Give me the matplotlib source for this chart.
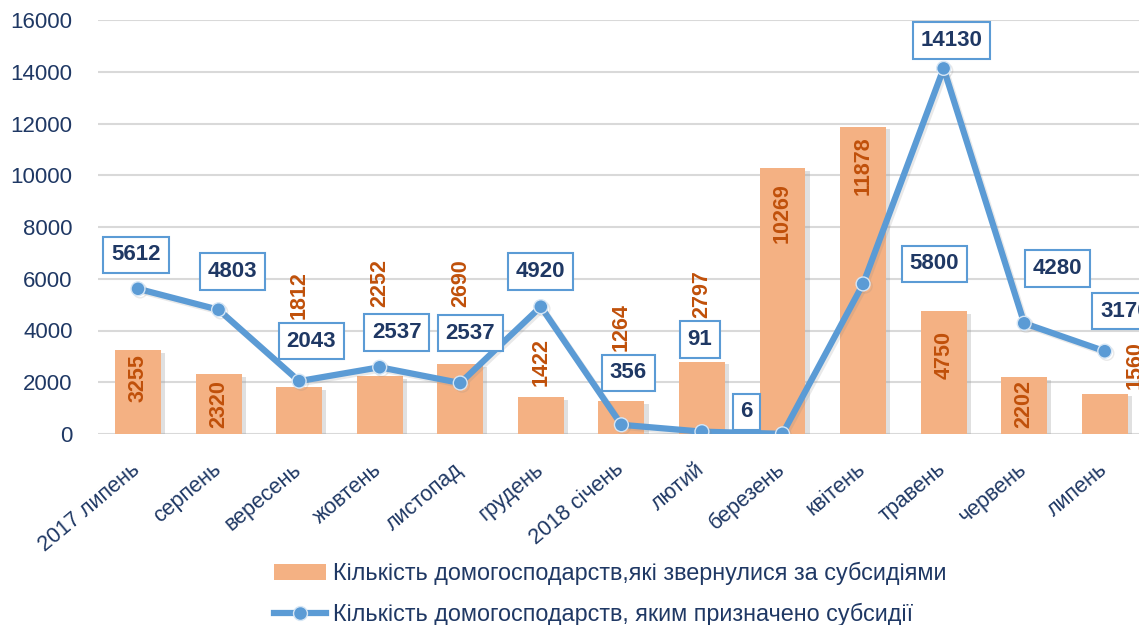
import matplotlib.pyplot as plt
import matplotlib.patheffects as pe
import matplotlib.transforms as mtransforms
from matplotlib.patches import Patch
from matplotlib.lines import Line2D

plt.rcParams['font.family'] = ['Liberation Sans', 'DejaVu Sans']

# Data
months = ['2017 липень', 'серпень', 'вересень', 'жовтень', 'листопад', 'грудень',
          '2018 січень', 'лютий', 'березень', 'квітень', 'травень', 'червень', 'липень']
applied = [3255, 2320, 1812, 2252, 2690, 1422, 1264, 2797, 10269, 11878, 4750, 2202, 1560]
granted = [5612, 4803, 2043, 2580, 1970, 4920, 356, 91, 6, 5800, 14130, 4280, 3200]
applied_labels = ['3255', '2320', '1812', '2252', '2690', '1422', '1264', '2797',
                  '10269', '11878', '4750', '2202', '1560']
granted_labels = ['5612', '4803', '2043', '2537', '2537', '4920', '356', '91', '6',
                  '5800', '14130', '4280', '3170']

# label placement (pixels from the bar top / line point)
bar_lab_off = [(0, -28), (0, -30), (0, 92), (0, 93), (0, 81), (0, 35), (0, 74),
               (0, 68), (0, -45), (0, -39), (0, -44), (0, -27), (30, 29)]
line_lab_off = [(-2, 34), (14, 38), (12, 40), (17, 35), (10, 50), (0, 35), (7, 52),
                (-2, 92), (-36, 22), (71, 20), (8, 28), (33, 55), (20, 40)]

navy = '#1F3864'
bar_color = '#F4B183'
line_color = '#5B9BD5'
bar_text = '#C0500A'

fig = plt.figure(figsize=(11.39, 6.25), dpi=100)
ax = fig.add_axes([0.0858, 0.3056, 0.9195, 0.6624])

x = list(range(len(months)))
bars = ax.bar(x, applied, width=0.57, color=bar_color, zorder=2,
              path_effects=[pe.withSimplePatchShadow(offset=(3, -2), shadow_rgbFace='#999999', alpha=0.3)])
ax.plot(x, granted, color=line_color, lw=4.5, marker='o', markersize=10,
        markerfacecolor=line_color, markeredgecolor='#D6E6F5', markeredgewidth=1, zorder=3,
        path_effects=[pe.SimpleLineShadow(offset=(1.5, -1.5), shadow_color='#888888', alpha=0.18),
                      pe.Normal()])

for i, (v, lab) in enumerate(zip(applied, applied_labels)):
    ax.annotate(lab, (i, v), xytext=bar_lab_off[i], textcoords='offset pixels',
                ha='center', va='center', rotation=90, fontsize=15.5, fontweight='bold',
                color=bar_text, zorder=4)

for i, (v, lab) in enumerate(zip(granted, granted_labels)):
    ax.annotate(lab, (i, v), xytext=line_lab_off[i], textcoords='offset pixels',
                ha='center', va='center', fontsize=16, fontweight='bold', color=navy, zorder=5,
                bbox=dict(boxstyle='square,pad=0.35', facecolor='white', edgecolor=line_color, lw=1.5))

ax.set_xlim(-0.5, 12.5)
ax.set_ylim(0, 16000)
ax.set_yticks(range(0, 16001, 2000))
ax.grid(axis='y', color='#D9D9D9', lw=1.5, zorder=0)
ax.set_axisbelow(True)
for s in ax.spines.values():
    s.set_visible(False)
ax.tick_params(axis='both', length=0, colors=navy, labelsize=16)
ax.tick_params(axis='y', pad=18)
ax.tick_params(axis='x', pad=18, labelsize=15.5)
ax.set_xticks(x)
ax.set_xticklabels(months, rotation=40, ha='right', rotation_mode='anchor')
shift = mtransforms.ScaledTranslation(-7 / 100, 0, fig.dpi_scale_trans)
for lbl in ax.get_xticklabels():
    lbl.set_transform(lbl.get_transform() + shift)

handles = [Patch(facecolor=bar_color, edgecolor='none'),
           Line2D([0], [0], color=line_color, lw=4.5, marker='o', markersize=10,
                  markerfacecolor=line_color, markeredgecolor='#D6E6F5')]
names = ['Кількість домогосподарств,які звернулися за субсидіями',
         'Кількість домогосподарств, яким призначено субсидії']
leg = fig.legend(handles, names, loc='upper left', bbox_to_anchor=(0.232, 0.116),
                 frameon=False, fontsize=16.8, handlelength=2.25, handletextpad=0.3,
                 labelspacing=0.75, borderaxespad=0)
for t in leg.get_texts():
    t.set_color(navy)

fig.savefig('out.png', dpi=100)
